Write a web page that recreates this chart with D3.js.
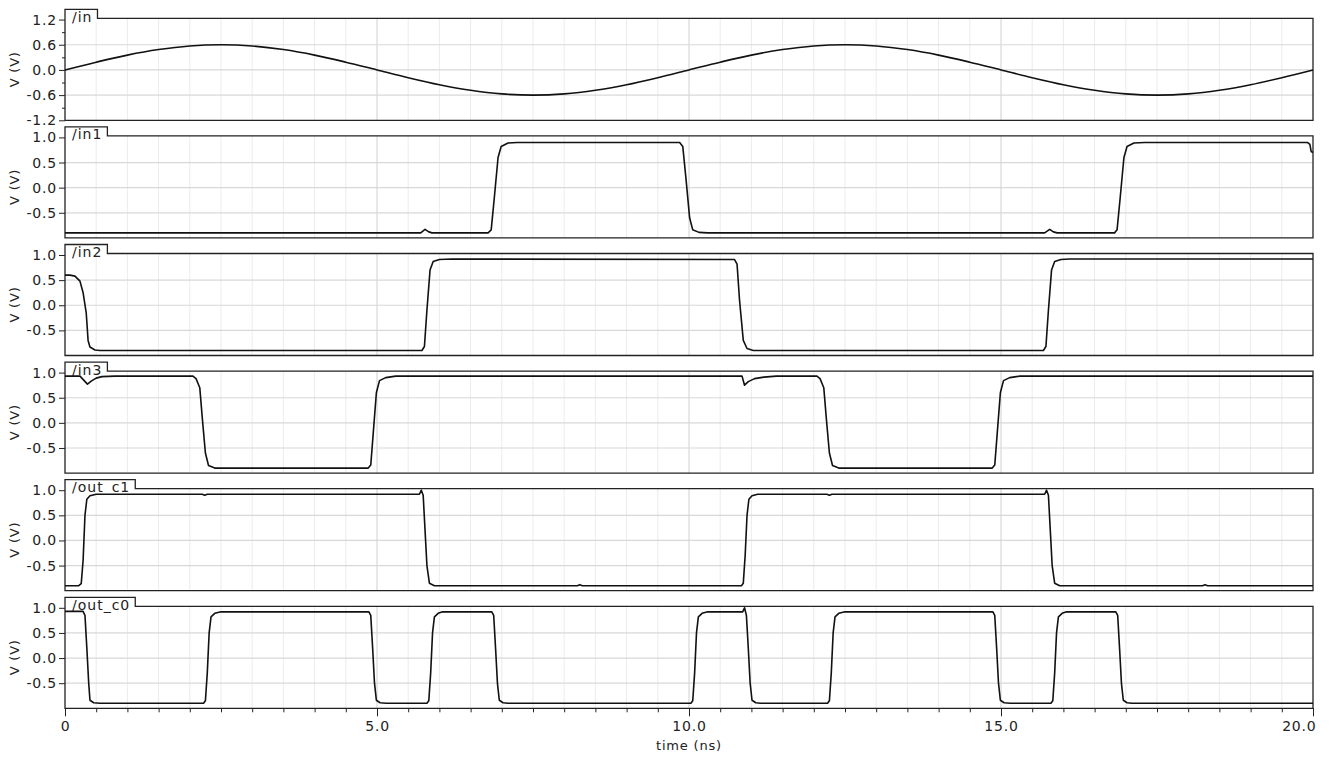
<!DOCTYPE html>
<html><head><meta charset="utf-8">
<script src="https://cdn.jsdelivr.net/npm/d3@7"></script>
<style>
body{margin:0;background:#fff;}
text{font-family:"DejaVu Sans",sans-serif;}
</style>
</head><body><svg id="c" width="1333" height="757"></svg>
<script>
// ---------- data ----------
const signalNames = ["/in", "/in1", "/in2", "/in3", "/out_c1", "/out_c0"];

const inTimes = [0,0.5,1,1.5,2,2.5,3,3.5,4,4.5,5,5.5,6,6.5,7,7.5,8,8.5,9,9.5,10,
                 10.5,11,11.5,12,12.5,13,13.5,14,14.5,15,15.5,16,16.5,17,17.5,18,18.5,19,19.5,20];
const inValues = [0,0.185,0.353,0.485,0.571,0.6,0.571,0.485,0.353,0.185,0,
                  -0.185,-0.353,-0.485,-0.571,-0.6,-0.571,-0.485,-0.353,-0.185,0,
                  0.185,0.353,0.485,0.571,0.6,0.571,0.485,0.353,0.185,0,
                  -0.185,-0.353,-0.485,-0.571,-0.6,-0.571,-0.485,-0.353,-0.185,0];

const in1 = [[0,-0.9],[5.70,-0.9],[5.77,-0.83],[5.83,-0.88],[5.88,-0.9],
  [6.78,-0.9],[6.83,-0.84],[6.88,-0.2],[6.94,0.6],[6.99,0.82],[7.10,0.89],[7.25,0.9],
  [9.85,0.9],[9.90,0.82],[9.95,0.2],[10.01,-0.6],[10.06,-0.84],[10.16,-0.89],[10.3,-0.9],
  [15.70,-0.9],[15.78,-0.83],[15.84,-0.88],[15.90,-0.9],
  [16.82,-0.9],[16.86,-0.84],[16.91,-0.2],[16.97,0.6],[17.02,0.82],[17.13,0.89],[17.3,0.9],
  [19.91,0.9],[19.95,0.86],[19.97,0.72],[20.0,0.7]];

const in2 = [[0,0.6],[0.08,0.6],[0.16,0.58],[0.24,0.48],[0.29,0.25],[0.34,-0.15],[0.37,-0.7],
  [0.40,-0.83],[0.48,-0.89],[0.56,-0.9],
  [5.72,-0.9],[5.76,-0.82],[5.80,-0.1],[5.85,0.7],[5.90,0.87],[6.0,0.91],[6.2,0.92],
  [10.73,0.91],[10.77,0.82],[10.81,0.1],[10.87,-0.7],[10.93,-0.86],[11.03,-0.9],
  [15.68,-0.9],[15.72,-0.82],[15.76,-0.1],[15.81,0.7],[15.86,0.87],[15.96,0.91],[16.1,0.92],
  [20.0,0.92]];

const in3 = [[0,0.93],[0.24,0.93],[0.30,0.85],[0.36,0.77],[0.42,0.83],[0.50,0.89],[0.59,0.92],[0.8,0.93],
  [2.05,0.93],[2.10,0.88],[2.16,0.7],[2.20,0.1],[2.25,-0.6],[2.30,-0.85],[2.40,-0.9],
  [4.86,-0.9],[4.90,-0.84],[4.94,-0.2],[4.99,0.6],[5.04,0.84],[5.14,0.9],[5.3,0.93],
  [10.85,0.93],[10.89,0.75],[10.95,0.82],[11.05,0.88],[11.2,0.91],[11.4,0.93],
  [12.05,0.93],[12.10,0.88],[12.16,0.7],[12.20,0.1],[12.25,-0.6],[12.30,-0.85],[12.40,-0.9],
  [14.86,-0.9],[14.90,-0.84],[14.94,-0.2],[14.99,0.6],[15.04,0.84],[15.14,0.9],[15.3,0.93],
  [20.0,0.93]];

const outC1 = [[0,-0.9],[0.22,-0.9],[0.26,-0.86],[0.29,-0.4],[0.32,0.5],[0.35,0.82],[0.40,0.89],[0.50,0.92],
  [2.20,0.92],[2.24,0.9],[2.28,0.92],
  [5.68,0.92],[5.71,1.0],[5.74,0.9],[5.77,0.2],[5.80,-0.5],[5.84,-0.85],[5.92,-0.9],
  [8.21,-0.9],[8.25,-0.88],[8.29,-0.9],
  [10.84,-0.9],[10.87,-0.85],[10.90,-0.3],[10.93,0.5],[10.96,0.82],[11.01,0.89],[11.1,0.92],
  [12.21,0.92],[12.25,0.9],[12.29,0.92],
  [15.70,0.92],[15.73,1.0],[15.76,0.9],[15.79,0.2],[15.82,-0.5],[15.86,-0.85],[15.94,-0.9],
  [18.23,-0.9],[18.27,-0.88],[18.31,-0.9],
  [20.0,-0.9]];

const outC0 = [[0,0.93],[0.29,0.93],[0.32,0.85],[0.35,0.2],[0.38,-0.5],[0.40,-0.84],[0.46,-0.89],[0.56,-0.9],
  [2.22,-0.9],[2.25,-0.85],[2.28,-0.3],[2.31,0.5],[2.34,0.82],[2.40,0.89],[2.5,0.92],
  [4.87,0.92],[4.90,0.85],[4.93,0.2],[4.96,-0.5],[4.99,-0.84],[5.05,-0.89],[5.15,-0.9],
  [5.80,-0.9],[5.83,-0.85],[5.86,-0.3],[5.89,0.5],[5.92,0.82],[5.98,0.89],[6.05,0.92],
  [6.84,0.92],[6.87,0.85],[6.90,0.2],[6.93,-0.5],[6.96,-0.84],[7.02,-0.89],[7.1,-0.9],
  [10.03,-0.9],[10.06,-0.85],[10.09,-0.3],[10.12,0.5],[10.15,0.82],[10.21,0.89],[10.3,0.92],
  [10.86,0.92],[10.89,1.0],[10.92,0.85],[10.95,0.2],[10.98,-0.5],[11.01,-0.84],[11.07,-0.89],[11.15,-0.9],
  [12.22,-0.9],[12.25,-0.85],[12.28,-0.3],[12.31,0.5],[12.34,0.82],[12.40,0.89],[12.5,0.92],
  [14.87,0.92],[14.90,0.85],[14.93,0.2],[14.96,-0.5],[14.99,-0.84],[15.05,-0.89],[15.15,-0.9],
  [15.80,-0.9],[15.83,-0.85],[15.86,-0.3],[15.89,0.5],[15.92,0.82],[15.98,0.89],[16.05,0.92],
  [16.84,0.92],[16.87,0.85],[16.90,0.2],[16.93,-0.5],[16.96,-0.84],[17.02,-0.89],[17.1,-0.9],
  [20.0,-0.9]];

const yTicksIn = [1.2, 0.6, 0, -0.6, -1.2];
const yTickLabelsIn = ["1.2", "0.6", "0.0", "-0.6", "-1.2"];
const yMinorIn = [0.9, 0.3, -0.3, -0.9];
const yTicksDig = [1.0, 0.5, 0, -0.5];
const yTickLabelsDig = ["1.0", "0.5", "0.0", "-0.5"];
const xMajorTicks = [0, 5, 10, 15, 20];
const xTickLabels = ["0", "5.0", "10.0", "15.0", "20.0"];
const xTitle = "time (ns)";
const yTitle = "V (V)";

// ---------- layout ----------
const svg = d3.select("#c");
const left = 65, right = 1313;
const panelH = 102, panelStep = 117.6, firstTop = 18.3;
const x = d3.scaleLinear().domain([0, 20]).range([left, right]);
const xGrid = d3.range(0, 20.001, 0.5);

const seriesList = [
  inTimes.map((t, i) => [t, inValues[i]]), in1, in2, in3, outC1, outC0
];

signalNames.forEach((name, i) => {
  const top = firstTop + panelStep * i, bottom = top + panelH;
  const y = d3.scaleLinear()
    .domain(i === 0 ? [-1.2, 1.23] : [-1.0, 1.03])
    .range([bottom, top]);
  const g = svg.append("g");
  g.append("rect").attr("x", left).attr("y", top).attr("width", right - left).attr("height", panelH).attr("fill", "#fff");

  // vertical grid
  g.selectAll(".vg").data(xGrid.filter(t => t > 0 && t < 20)).join("line")
    .attr("x1", d => x(d)).attr("x2", d => x(d))
    .attr("y1", top).attr("y2", bottom)
    .attr("stroke", d => (d % 5 === 0) ? "#d0d0d0" : "#ececec").attr("stroke-width", 1);

  const ticks = i === 0 ? yTicksIn : yTicksDig;
  const labels = i === 0 ? yTickLabelsIn : yTickLabelsDig;
  // horizontal grid
  g.selectAll(".hg").data(ticks.filter(v => y(v) > top + 3 && y(v) < bottom - 3)).join("line")
    .attr("x1", left).attr("x2", right)
    .attr("y1", d => y(d)).attr("y2", d => y(d))
    .attr("stroke", "#d8d8d8").attr("stroke-width", 1.2);

  // y axis
  const ax = g.append("g").attr("transform", `translate(${left},0)`)
    .call(d3.axisLeft(y).tickValues(ticks).tickSize(6).tickPadding(2)
      .tickFormat((d, k) => labels[k]));
  ax.select(".domain").remove();
  ax.selectAll("line").attr("stroke", "#222");
  ax.selectAll("text").attr("font-size", 14).attr("letter-spacing", "0.8px").attr("fill", "#222")
    .attr("font-family", "DejaVu Sans, sans-serif");
  if (i === 0) {
    const mx = g.append("g").attr("transform", `translate(${left},0)`)
      .call(d3.axisLeft(y).tickValues(yMinorIn).tickSize(3).tickFormat(""));
    mx.select(".domain").remove();
    mx.selectAll("line").attr("stroke", "#222");
  }

  // y title
  g.append("text").attr("transform", `translate(19,${(top + bottom) / 2}) rotate(-90)`)
    .attr("text-anchor", "middle").attr("font-size", 13).attr("letter-spacing", "0.8px")
    .attr("fill", "#222").text(yTitle);

  // tab with label
  const tabBg = g.append("rect").attr("x", left).attr("y", top - 9).attr("height", 13).attr("fill", "#fff");
  const lbl = g.append("text").attr("x", left + 7).attr("y", top + 3.5)
    .attr("font-size", 14).attr("letter-spacing", "1px").attr("fill", "#222").text(name);
  const w = lbl.node().getComputedTextLength() + 12;
  tabBg.attr("width", w);
  g.append("path")
    .attr("d", `M${left},${bottom}V${top - 9}H${left + w}V${top}H${right}V${bottom}Z`)
    .attr("fill", "none").attr("stroke", "#222").attr("stroke-width", 1.3);

  // data
  const line = d3.line().x(d => x(d[0])).y(d => y(d[1]))
    .curve(i === 0 ? d3.curveMonotoneX : d3.curveLinear);
  g.append("path").datum(seriesList[i]).attr("d", line)
    .attr("fill", "none").attr("stroke", "#111").attr("stroke-width", 1.6)
    .attr("stroke-linejoin", "round");

  if (i === signalNames.length - 1) {
    const xa = svg.append("g").attr("transform", `translate(0,${bottom})`)
      .call(d3.axisBottom(x).tickValues(xGrid).tickSize(4).tickFormat(""));
    xa.select(".domain").remove();
    xa.selectAll("line").attr("stroke", "#222");
    const xm = svg.append("g").attr("transform", `translate(0,${bottom})`)
      .call(d3.axisBottom(x).tickValues(xMajorTicks).tickSize(8).tickPadding(5)
        .tickFormat((d, k) => xTickLabels[k]));
    xm.select(".domain").remove();
    xm.selectAll("line").attr("stroke", "#222");
    xm.selectAll("text").attr("font-size", 14).attr("letter-spacing", "0.8px").attr("fill", "#222")
      .attr("font-family", "DejaVu Sans, sans-serif");
    xm.selectAll("text").filter((d) => d === 20).attr("text-anchor", "end").attr("dx", 3);
    svg.append("text").attr("x", x(10)).attr("y", bottom + 42).attr("text-anchor", "middle")
      .attr("font-size", 13).attr("letter-spacing", "0.8px").attr("fill", "#222").text(xTitle);
  }
});
</script>
</body></html>
